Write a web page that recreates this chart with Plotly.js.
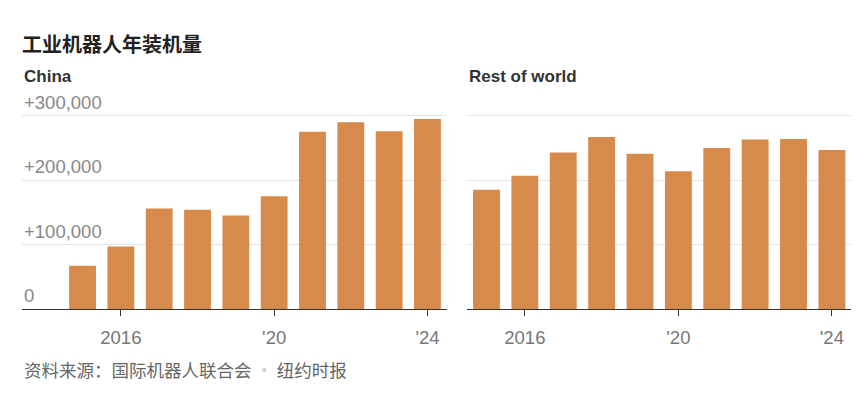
<!DOCTYPE html>
<html>
<head>
<meta charset="utf-8">
<script src="https://cdn.plot.ly/plotly-3.0.1.min.js"></script>
<style>
html,body{margin:0;padding:0;background:#fff;}
#chart{width:866px;height:393px;}
</style>
</head>
<body>
<div id="chart"></div>
<script>
const years = [2015, 2016, 2017, 2018, 2019, 2020, 2021, 2022, 2023, 2024];
const china = [67000, 97000, 156000, 154000, 145000, 175000, 275000, 290000, 276000, 295000];
const restOfWorld = [185000, 207000, 243000, 267000, 241000, 214000, 250000, 263000, 264000, 247000];
const xTickVals = [2016, 2020, 2024];
const xTickText = ['2016', "'20", "'24"];
const yTickVals = [0, 100000, 200000, 300000];
const yTickText = ['0', '+100,000', '+200,000', '+300,000'];
const panelTitles = ['China', 'Rest of world'];
const chartTitle = '工业机器人年装机量';
const sourceText = '资料来源：国际机器人联合会 <span style="color:#cccccc">•</span> 纽约时报';

const barColor = '#d68a4c';
const latin = '"Liberation Sans", Arial, "Noto Sans CJK SC", sans-serif';
const cjk = '"Noto Sans CJK SC", "Liberation Sans", sans-serif';

const traces = [
  {type: 'bar', x: years, y: china, xaxis: 'x', yaxis: 'y', marker: {color: barColor}, width: 0.7, hoverinfo: 'skip'},
  {type: 'bar', x: years, y: restOfWorld, xaxis: 'x2', yaxis: 'y2', marker: {color: barColor}, width: 0.7, hoverinfo: 'skip'}
];

const xCommon = {
  type: 'linear', tickvals: xTickVals, ticktext: xTickText,
  ticks: 'outside', ticklen: 6, tickwidth: 1, tickcolor: '#333',
  ticklabelstandoff: 6,
  showline: true, linecolor: '#333', linewidth: 1,
  showgrid: false, zeroline: false, fixedrange: true,
  tickfont: {family: latin, size: 18.5, color: '#777'}
};
const yCommon = {
  range: [0, 304300], tickvals: yTickVals, showticklabels: false,
  showgrid: true, gridcolor: '#e4e4e4', gridwidth: 1, zeroline: false, fixedrange: true
};

const leftDom = [22/866, 447/866];
const rightDom = [467.3/866, 850.7/866];

const annotations = [];
yTickVals.forEach((v, i) => {
  annotations.push({
    xref: 'paper', yref: 'y', x: leftDom[0], y: v, xanchor: 'left', yanchor: 'bottom',
    text: yTickText[i], showarrow: false, yshift: 1,
    font: {family: latin, size: 18.5, color: '#888'}
  });
});
annotations.push({xref: 'paper', yref: 'paper', x: leftDom[0], y: 1, yanchor: 'bottom', xanchor: 'left',
  text: '<b>' + panelTitles[0] + '</b>', showarrow: false, yshift: 25,
  font: {family: latin, size: 17, color: '#333'}});
annotations.push({xref: 'paper', yref: 'paper', x: rightDom[0], y: 1, yanchor: 'bottom', xanchor: 'left',
  text: '<b>' + panelTitles[1] + '</b>', showarrow: false, yshift: 25,
  font: {family: latin, size: 17, color: '#333'}});
annotations.push({xref: 'paper', yref: 'paper', x: leftDom[0], y: 0, yanchor: 'top', xanchor: 'left',
  text: sourceText, showarrow: false, yshift: -46,
  font: {family: cjk, size: 17.5, color: '#666'}});

const layout = {
  width: 866, height: 393,
  margin: {l: 0, r: 0, t: 113, b: 84},
  paper_bgcolor: '#fff', plot_bgcolor: '#fff',
  showlegend: false,
  title: {text: '<b>' + chartTitle + '</b>', x: leftDom[0], xanchor: 'left', xref: 'paper',
    y: 1 - 45/393, yanchor: 'middle', yref: 'container',
    font: {family: cjk, size: 20, color: '#222'}},
  xaxis: Object.assign({}, xCommon, {domain: leftDom, anchor: 'y', range: [2013.42, 2024.51]}),
  yaxis: Object.assign({}, yCommon, {anchor: 'x'}),
  xaxis2: Object.assign({}, xCommon, {domain: rightDom, anchor: 'y2', range: [2014.5, 2024.49]}),
  yaxis2: Object.assign({}, yCommon, {anchor: 'x2'}),
  annotations: annotations
};

Plotly.newPlot('chart', traces, layout, {displayModeBar: false, staticPlot: true});
</script>
</body>
</html>
